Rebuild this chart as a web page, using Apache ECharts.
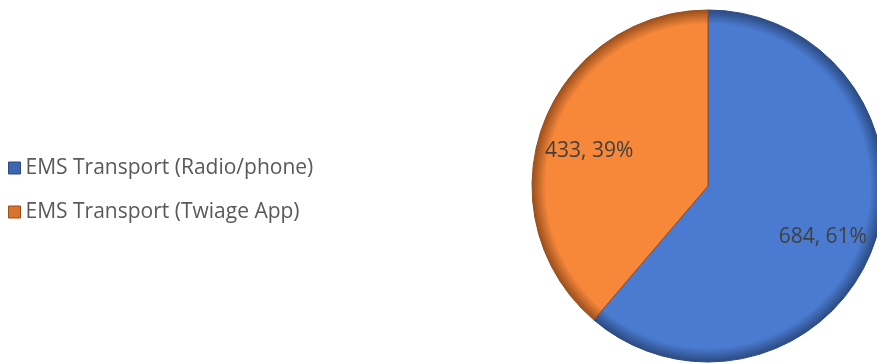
<!DOCTYPE html>
<html><head><meta charset="utf-8">
<script src="https://cdn.jsdelivr.net/npm/echarts@6/dist/echarts.min.js"></script>
<style>html,body{margin:0;padding:0;background:#fff}#c{width:877px;height:364px}</style>
</head><body><div id="c"></div>
<script>
const categories = ['EMS Transport (Radio/phone)', 'EMS Transport (Twiage App)'];
const values = [684, 433];
const baseColors = ['#4A7BD0', '#F7883A'];
const edgeColors = ['#2B4A80', '#9A4E1C'];
const legendColors = ['#3D66B2', '#D8722C'];

const CX = 708, CY = 186, R = 176;
function grad(i) {
  return {
    type: 'radial', x: CX, y: CY, r: R, global: true,
    colorStops: [
      { offset: 0, color: baseColors[i] },
      { offset: 0.92, color: baseColors[i] },
      { offset: 1, color: edgeColors[i] }
    ]
  };
}
const chart = echarts.init(document.getElementById('c'), null, { renderer: 'canvas' });
const total = values.reduce((a, b) => a + b, 0);
chart.setOption({
  animation: false,
  textStyle: { fontFamily: 'Open Sans' },
  legend: {
    orient: 'vertical', left: 3, top: 152, itemGap: 22,
    itemWidth: 12, itemHeight: 12, icon: 'rect',
    textStyle: { fontSize: 21, lineHeight: 22, color: '#595959', fontFamily: 'Open Sans' },
    data: categories.map((n, i) => ({ name: n, itemStyle: { color: legendColors[i], borderColor: edgeColors[i], borderWidth: 1 } }))
  },
  series: [
    {
      type: 'pie', center: [CX, CY], radius: [0, R], startAngle: 90, clockwise: true,
      label: { show: false }, labelLine: { show: false },
      data: categories.map((n, i) => ({ name: n, value: values[i], itemStyle: { color: grad(i), borderColor: edgeColors[i], borderWidth: 1 } })),
      emphasis: { disabled: true }
    },
    {
      type: 'pie', center: [CX, CY], radius: [R * 0.38, R], startAngle: 90, clockwise: true, silent: true,
      itemStyle: { color: 'rgba(0,0,0,0)' },
      label: {
        show: true, position: 'inside', fontSize: 21, color: '#404040', fontFamily: 'Open Sans', offset: [-2, 8],
        formatter: p => p.value + ', ' + Math.round(p.value / total * 100) + '%'
      },
      labelLine: { show: false },
      data: categories.map((n, i) => ({ name: n + ' ', value: values[i] })),
      legendHoverLink: false
    }
  ]
});
</script></body></html>
